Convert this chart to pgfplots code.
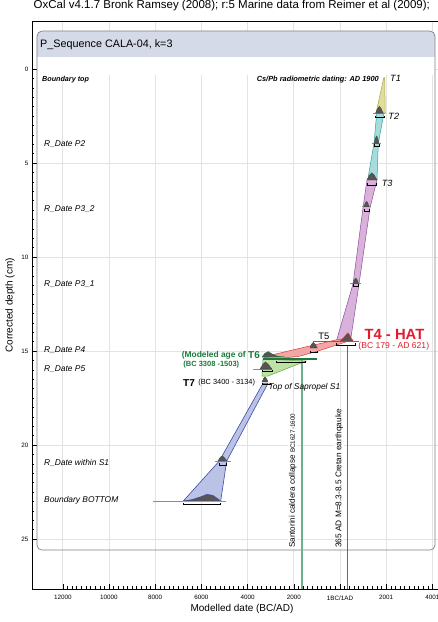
\documentclass[border=0pt]{standalone}
\usepackage{fontspec}
\setmainfont{Liberation Sans}
\usepackage{pgfplots}
\pgfplotsset{compat=1.18}
\newcommand{\fs}[1]{\fontsize{#1pt}{#1pt}\selectfont}
\definecolor{hdr}{HTML}{D5DAE8}
\definecolor{olivef}{HTML}{DEDE9C}
\definecolor{olived}{HTML}{A8A840}
\definecolor{cyanf}{HTML}{A6DCDC}
\definecolor{cyand}{HTML}{3A9FA6}
\definecolor{purpf}{HTML}{D9B2DB}
\definecolor{purpd}{HTML}{8C4C9C}
\definecolor{redf}{HTML}{F3A6A6}
\definecolor{redd}{HTML}{D83A3A}
\definecolor{grnf}{HTML}{BEE2A6}
\definecolor{grnd}{HTML}{5AA83C}
\definecolor{dgreen}{HTML}{1B7A3C}
\definecolor{bluef}{HTML}{BAC2E6}
\definecolor{blued}{HTML}{3C4CA6}
\definecolor{humpc}{HTML}{555555}
\definecolor{redtxt}{HTML}{E11B2B}
\definecolor{vgreen}{HTML}{6CAF8C}
\newcommand{\hump}[2][humpc!80!black]{\addplot[fill=humpc, draw=#1, line width=0.4pt] coordinates {#2} -- cycle;}
\newcommand{\brk}[1]{\addplot[black, line width=0.5pt] coordinates {#1};}
\begin{document}
\begin{tikzpicture}
\begin{axis}[
  set layers, clip=false, no markers,
  scale only axis, width=420pt, height=567.3pt,
  xmin=-13333, xmax=4849, ymin=-2.52, ymax=27.66, y dir=reverse,
  scaled x ticks=false, scaled y ticks=false,
  xtick={-12000,-10000,-8000,-6000,-4000,-2000,0,2000,4000},
  xticklabels={12000,10000,8000,6000,4000,2000,1BC/1AD,2001,4001},
  ytick={0,5,10,15,20,25},
  minor x tick num=9, minor y tick num=9,
  xtick pos=left, ytick pos=left,
  tick align=inside,
  major tick length=5pt, minor tick length=2.5pt,
  grid=major, major grid style={draw=black!11, line width=0.6pt},
  axis line style={black, line width=0.8pt},
  tick style={black, line width=0.5pt},
  /pgf/number format/assume math mode=true,
  ticklabel style={font=\fs{6.3}},
  xticklabel style={yshift=-3pt},
  xlabel={Modelled date (BC/AD)}, ylabel={Corrected depth (cm)},
  label style={font=\fs{10}},
  xlabel style={at={(axis description cs:0.5,0)}, anchor=center, yshift=-20pt},
  ylabel style={at={(axis description cs:-0.0524,0.5)}, anchor=center},
  title={OxCal v4.1.7 Bronk Ramsey (2008); r:5 Marine data from Reimer et al (2009);},
  title style={at={(axis description cs:0,1)}, anchor=west, xshift=1.5pt, yshift=10pt, font=\fs{11.5}, inner sep=0pt},
]
% panel
\fill[on layer=axis background, hdr, rounded corners=5pt] (axis cs:-13117,-2.02) rectangle (axis cs:4113,0);
\fill[on layer=axis background, white] (axis cs:-13117,-0.65) rectangle (axis cs:4113,0.3);
\draw[black!50, line width=0.7pt, rounded corners=5pt] (axis cs:-13117,-2.02) rectangle (axis cs:4113,25.59);
\node[anchor=west, font=\fs{10.8}, inner sep=0pt] at (axis cs:-12987,-1.3) {P\_Sequence CALA-04, k=3};

% bands
\addplot[fill=olivef, draw=olived, line width=0.5pt] coordinates {(1900,0.45)(1935,0.45)(1960,2.34)(1560,2.34)} -- cycle;
\addplot[fill=cyanf, draw=cyand, line width=0.5pt] coordinates {(1589,2.34)(1905,2.34)(1658,3.95)(1602,5.9)(1199,5.9)(1472,3.95)} -- cycle;
\addplot[fill=purpf, draw=purpd, line width=0.5pt] coordinates {(1169,5.9)(1602,5.9)(1299,7.39)(823,11.44)(463,14.38)(-143,14.41)(563,11.44)(996,7.39)} -- cycle;
\addplot[fill=redf, draw=redd, line width=0.5pt] coordinates {(-3333,15.32)(-1515,14.79)(-173,14.41)(519,14.41)(-952,15.0)(-1732,15.27)(-2814,15.43)} -- cycle;
\addplot[fill=grnf, draw=grnd, line width=0.5pt] coordinates {(-3333,15.43)(-1472,15.53)(-3117,16.33)(-3377,16.33)} -- cycle;
\addplot[fill=bluef, draw=blued, line width=0.6pt] coordinates {(-3333,16.72)(-3117,16.72)(-4905,20.85)(-5164,22.98)(-6784,22.98)(-5225,20.85)} -- cycle;

% vertical event lines
\addplot[vgreen, line width=2pt] coordinates {(-1658,15.43)(-1658,27.66)};
\addplot[redd, line width=0.6pt] coordinates {(316,14.68)(316,27.66)};

% tails
\addplot[black!45, line width=0.4pt] coordinates {(-8095,22.98)(-6784,22.98)};
\addplot[black!45, line width=0.4pt] coordinates {(-5164,22.98)(-4935,22.98)};
\addplot[black!45, line width=0.4pt] coordinates {(-5400,20.85)(-4700,20.85)};
\addplot[black!45, line width=0.4pt] coordinates {(-3750,15.96)(-2944,15.96)};
\addplot[black!45, line width=0.4pt] coordinates {(1450,2.34)(1950,2.34)};
\addplot[black!45, line width=0.4pt] coordinates {(1380,3.95)(1780,3.95)};
\addplot[black!45, line width=0.4pt] coordinates {(950,7.32)(1350,7.32)};
\addplot[black!45, line width=0.4pt] coordinates {(450,11.4)(920,11.4)};

% humps
\hump{(1545,2.34)(1620,2.12)(1700,1.98)(1780,2.1)(1870,2.34)}
\hump{(1472,3.95)(1540,3.66)(1590,3.56)(1640,3.7)(1688,3.95)}
\hump{(1169,5.9)(1280,5.64)(1372,5.52)(1480,5.64)(1602,5.9)}
\hump{(1039,7.32)(1100,7.12)(1156,7.04)(1210,7.14)(1255,7.32)}
\hump{(563,11.4)(630,11.2)(680,11.12)(740,11.2)(801,11.4)}
\hump[redd]{(0,14.47)(150,14.3)(300,14.08)(346,14.04)(420,14.15)(500,14.35)(576,14.47)}
\hump{(-1299,14.84)(-1220,14.62)(-1156,14.54)(-1080,14.64)(-983,14.84)}
\hump[dgreen]{(-3377,15.32)(-3250,15.12)(-3104,15.03)(-2950,15.15)(-2700,15.28)(-2381,15.32)}
\hump{(-3463,15.96)(-3330,15.7)(-3225,15.58)(-3100,15.72)(-2944,15.96)}
\hump{(-3377,16.65)(-3300,16.45)(-3247,16.38)(-3180,16.47)(-3117,16.65)}
\hump{(-5281,20.85)(-5180,20.65)(-5095,20.58)(-5000,20.68)(-4891,20.85)}
\hump[blued]{(-6784,22.98)(-6400,22.9)(-6000,22.74)(-5757,22.62)(-5500,22.68)(-5300,22.85)(-5164,22.98)}

% T4 and T6 level lines
\addplot[redd, line width=1pt] coordinates {(-1169,14.5)(823,14.5)};
\addplot[dgreen, line width=1.3pt] coordinates {(-3333,15.43)(-996,15.43)};

% brackets
\brk{(1545,2.48)(1545,2.57)(1905,2.57)(1905,2.48)}
\brk{(1472,4.01)(1472,4.1)(1688,4.1)(1688,4.01)}
\brk{(1199,6.08)(1199,6.17)(1589,6.17)(1589,6.08)}
\brk{(1039,7.46)(1039,7.55)(1255,7.55)(1255,7.46)}
\brk{(563,11.45)(563,11.54)(801,11.54)(801,11.45)}
\brk{(-173,14.59)(-173,14.68)(649,14.68)(649,14.59)}
\brk{(-1299,15.0)(-1299,15.09)(-996,15.09)(-996,15.0)}
\brk{(-2741,15.53)(-2741,15.62)(-1515,15.62)(-1515,15.53)}
\brk{(-3377,16.0)(-3377,16.09)(-2944,16.09)(-2944,16.0)}
\brk{(-3377,16.68)(-3377,16.77)(-3030,16.77)(-3030,16.68)}
\brk{(-5238,20.97)(-5238,21.06)(-4935,21.06)(-4935,20.97)}
\brk{(-6784,23.06)(-6784,23.15)(-5164,23.15)(-5164,23.06)}

% left labels
\node[anchor=west, font=\fs{7.2}\bfseries\itshape, inner sep=0pt] at (axis cs:-12900,0.55) {Boundary top};
\node[anchor=west, font=\fs{8.4}\itshape, inner sep=0pt] at (axis cs:-12814,3.99) {R\_Date P2};
\node[anchor=west, font=\fs{8.4}\itshape, inner sep=0pt] at (axis cs:-12814,7.46) {R\_Date P3\_2};
\node[anchor=west, font=\fs{8.4}\itshape, inner sep=0pt] at (axis cs:-12814,11.44) {R\_Date P3\_1};
\node[anchor=west, font=\fs{8.4}\itshape, inner sep=0pt] at (axis cs:-12814,14.95) {R\_Date P4};
\node[anchor=west, font=\fs{8.4}\itshape, inner sep=0pt] at (axis cs:-12814,15.96) {R\_Date P5};
\node[anchor=west, font=\fs{8.4}\itshape, inner sep=0pt] at (axis cs:-12814,20.96) {R\_Date within S1};
\node[anchor=west, font=\fs{8.4}\itshape, inner sep=0pt] at (axis cs:-12814,22.96) {Boundary BOTTOM};

% annotations
\node[anchor=east, font=\fs{7.4}\bfseries\itshape, inner sep=0pt] at (axis cs:1688,0.55) {Cs/Pb radiometric dating: AD 1900};
\node[anchor=west, font=\fs{9.1}\itshape, inner sep=0pt] at (axis cs:2165,0.48) {T1};
\node[anchor=west, font=\fs{9.1}\itshape, inner sep=0pt] at (axis cs:2091,2.54) {T2};
\node[anchor=west, font=\fs{9.1}\itshape, inner sep=0pt] at (axis cs:1805,6.08) {T3};
\node[font=\fs{9.4}, inner sep=0pt] at (axis cs:-693,14.24) {T5};
\node[font=\fs{14.8}\bfseries, text=redtxt, inner sep=0pt] at (axis cs:2359,14.1) {T4 - HAT};
\node[font=\fs{8.6}, text=redtxt, inner sep=0pt] at (axis cs:2329,14.73) {(BC 179 - AD 621)};
\node[font=\fs{8.4}\bfseries, text=dgreen, inner sep=0pt] at (axis cs:-5463,15.25) {(Modeled age of};
\node[font=\fs{10}\bfseries, text=dgreen, inner sep=0pt] at (axis cs:-3723,15.21) {T6};
\node[font=\fs{7.5}\bfseries, text=dgreen, inner sep=0pt] at (axis cs:-5571,15.71) {(BC 3308 -1503)};
\node[font=\fs{10}\bfseries, inner sep=0pt] at (axis cs:-6537,16.69) {T7};
\node[font=\fs{7.4}, inner sep=0pt] at (axis cs:-4905,16.7) {(BC 3400 - 3134)};
\node[anchor=west, font=\fs{8.4}\itshape, inner sep=0pt] at (axis cs:-3100,16.92) {Top of Sapropel S1};

% rotated event labels
\node[anchor=west, rotate=90, fill=white, inner sep=1pt, font=\fs{8.1}] at (axis cs:-2047,25.53) {Santorini caldera collapse {\fs{6.3}BC1627-1600}};
\node[anchor=west, rotate=90, fill=white, inner sep=1pt, font=\fs{8.3}] at (axis cs:-30,25.53) {365 AD M=8.3-8.5 Cretan earthqauke};
\end{axis}
\pgfresetboundingbox
\useasboundingbox (-32pt,-33pt) rectangle (406pt,589pt);
\end{tikzpicture}
\end{document}
